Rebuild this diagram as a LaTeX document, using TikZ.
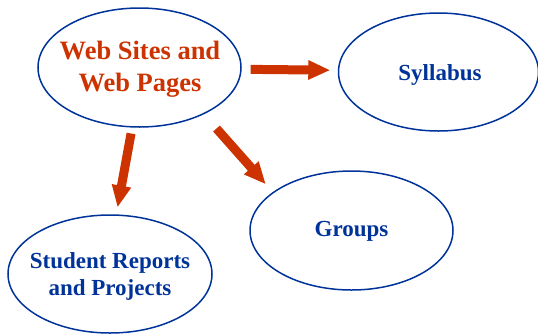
\documentclass[tikz,border=0pt]{standalone}
\usepackage{fontspec}
\setmainfont{Liberation Serif}
\usetikzlibrary{shapes.geometric,arrows.meta}
\definecolor{rust}{HTML}{CC3300}
\definecolor{navy}{HTML}{003399}
\tikzset{
  ell/.style={ellipse, draw=navy, line width=1.5pt, inner sep=0pt, minimum width=203pt, minimum height=119pt},
  redtext/.style={text=rust, align=center, font=\bfseries\fontsize{26.5}{32}\selectfont},
  bluetext/.style={text=navy, align=center, font=\bfseries\fontsize{23}{27}\selectfont},
  bigarrow/.style={draw=rust, line width=9pt, -{Triangle[width=18pt,length=22pt]}, fill=rust},
}
\begin{document}
\begin{tikzpicture}[x=1pt,y=-1pt]
\useasboundingbox (0,0) rectangle (538,333);
\node[ell] (main) at (139.5,67.5) {};
\node[ell, minimum width=200pt, minimum height=118pt] (syl) at (438.5,72) {};
\node[ell] (grp) at (351.5,230.5) {};
\node[ell, minimum width=204pt, minimum height=118pt] (stu) at (110,274) {};
\node[redtext] (mainT) at (140,69) {Web Sites and\\Web Pages};
\node[bluetext] (sylT) at (440,75) {Syllabus};
\node[bluetext] (grpT) at (351.5,231) {Groups};
\node[bluetext] (stuT) at (110,276) {Student Reports\\and Projects};
\draw[bigarrow, shorten <=9pt, shorten >=7.5pt] (main.-1) -- (syl.179);
\draw[bigarrow, shorten <=6pt, shorten >=7pt] (main.-97) -- (stu.84.5);
\draw[bigarrow, shorten <=19pt, shorten >=10.4pt] (main.-36) -- (grp.154.4);
\end{tikzpicture}
\end{document}
